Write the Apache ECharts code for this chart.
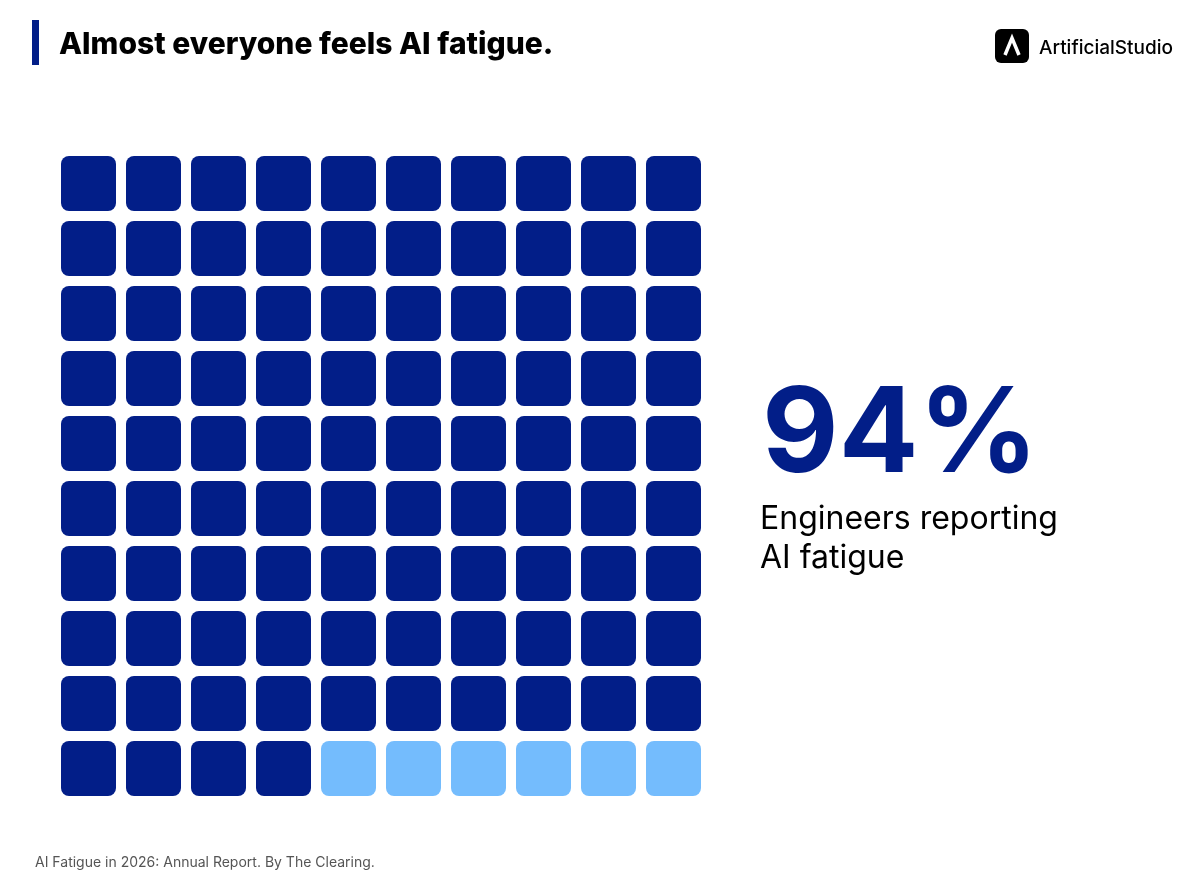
<!DOCTYPE html>
<html>
<head>
<meta charset="utf-8">
<script src="https://cdn.jsdelivr.net/npm/echarts@6/dist/echarts.min.js"></script>
<style>
html,body{margin:0;padding:0;background:#fff;}
#chart{width:1198px;height:889px;}
</style>
</head>
<body>
<div id="chart"></div>
<script>
// ---- data ----
const title = 'Almost everyone feels AI fatigue.';
const brand = 'ArtificialStudio';
const percentValue = 94;          // engineers reporting AI fatigue
const totalCells = 100;
const columns = ['0','1','2','3','4','5','6','7','8','9'];
const rows = ['0','1','2','3','4','5','6','7','8','9'];
const statLabelLines = ['Engineers reporting', 'AI fatigue'];
const sourceNote = 'AI Fatigue in 2026: Annual Report. By The Clearing.';

const DARK = '#021E88';
const LIGHT = '#74BCFD';

// build cells: filled row by row from the top-left
const cells = [];
for (let i = 0; i < totalCells; i++) {
  const r = Math.floor(i / columns.length);
  const c = i % columns.length;
  cells.push([c, r, i < percentValue ? 1 : 0]);
}

const chart = echarts.init(document.getElementById('chart'));
const FONT = 'Inter, "Noto Sans", sans-serif';

chart.setOption({
  backgroundColor: '#ffffff',
  animation: false,
  grid: { left: 56, top: 151, width: 650, height: 650 },
  xAxis: { type: 'category', data: columns, show: false },
  yAxis: { type: 'category', data: rows, show: false, inverse: true },
  series: [{
    type: 'custom',
    data: cells,
    renderItem: function (params, api) {
      const p = api.coord([api.value(0), api.value(1)]);
      const s = api.size([1, 1]);
      const w = s[0] - 10, h = s[1] - 10;
      return {
        type: 'rect',
        shape: { x: p[0] - w / 2, y: p[1] - h / 2, width: w, height: h, r: 8 },
        style: { fill: api.value(2) ? DARK : LIGHT }
      };
    }
  }],
  graphic: [
    { type: 'rect', shape: { x: 32, y: 20, width: 7, height: 45 }, style: { fill: DARK } },
    { type: 'text', x: 59, y: 45, style: { text: title, font: '800 30px ' + FONT, fill: '#000', verticalAlign: 'middle' } },
    // logo
    { type: 'rect', shape: { x: 995, y: 29, width: 34, height: 34, r: 6 }, style: { fill: '#000' } },
    { type: 'polyline', shape: { points: [[1005, 55], [1012, 38], [1019, 55]] }, style: { stroke: '#fff', lineWidth: 3.5, fill: null, lineJoin: 'miter' } },
    { type: 'text', x: 1039, y: 48, style: { text: brand, font: '500 19px ' + FONT, fill: '#000', verticalAlign: 'middle' } },
    // stat
    { type: 'text', x: 762, y: 437, style: { text: percentValue + '%', font: 'bold 118px ' + FONT, fill: DARK, verticalAlign: 'middle' } },
    { type: 'text', x: 760, y: 519, style: { text: statLabelLines[0], font: '32px ' + FONT, fill: '#000', verticalAlign: 'middle' } },
    { type: 'text', x: 760, y: 558, style: { text: statLabelLines[1], font: '32px ' + FONT, fill: '#000', verticalAlign: 'middle' } },
    // footer
    { type: 'text', x: 35, y: 863, style: { text: sourceNote, font: '14px ' + FONT, fill: '#555', verticalAlign: 'middle' } }
  ]
});
</script>
</body>
</html>
